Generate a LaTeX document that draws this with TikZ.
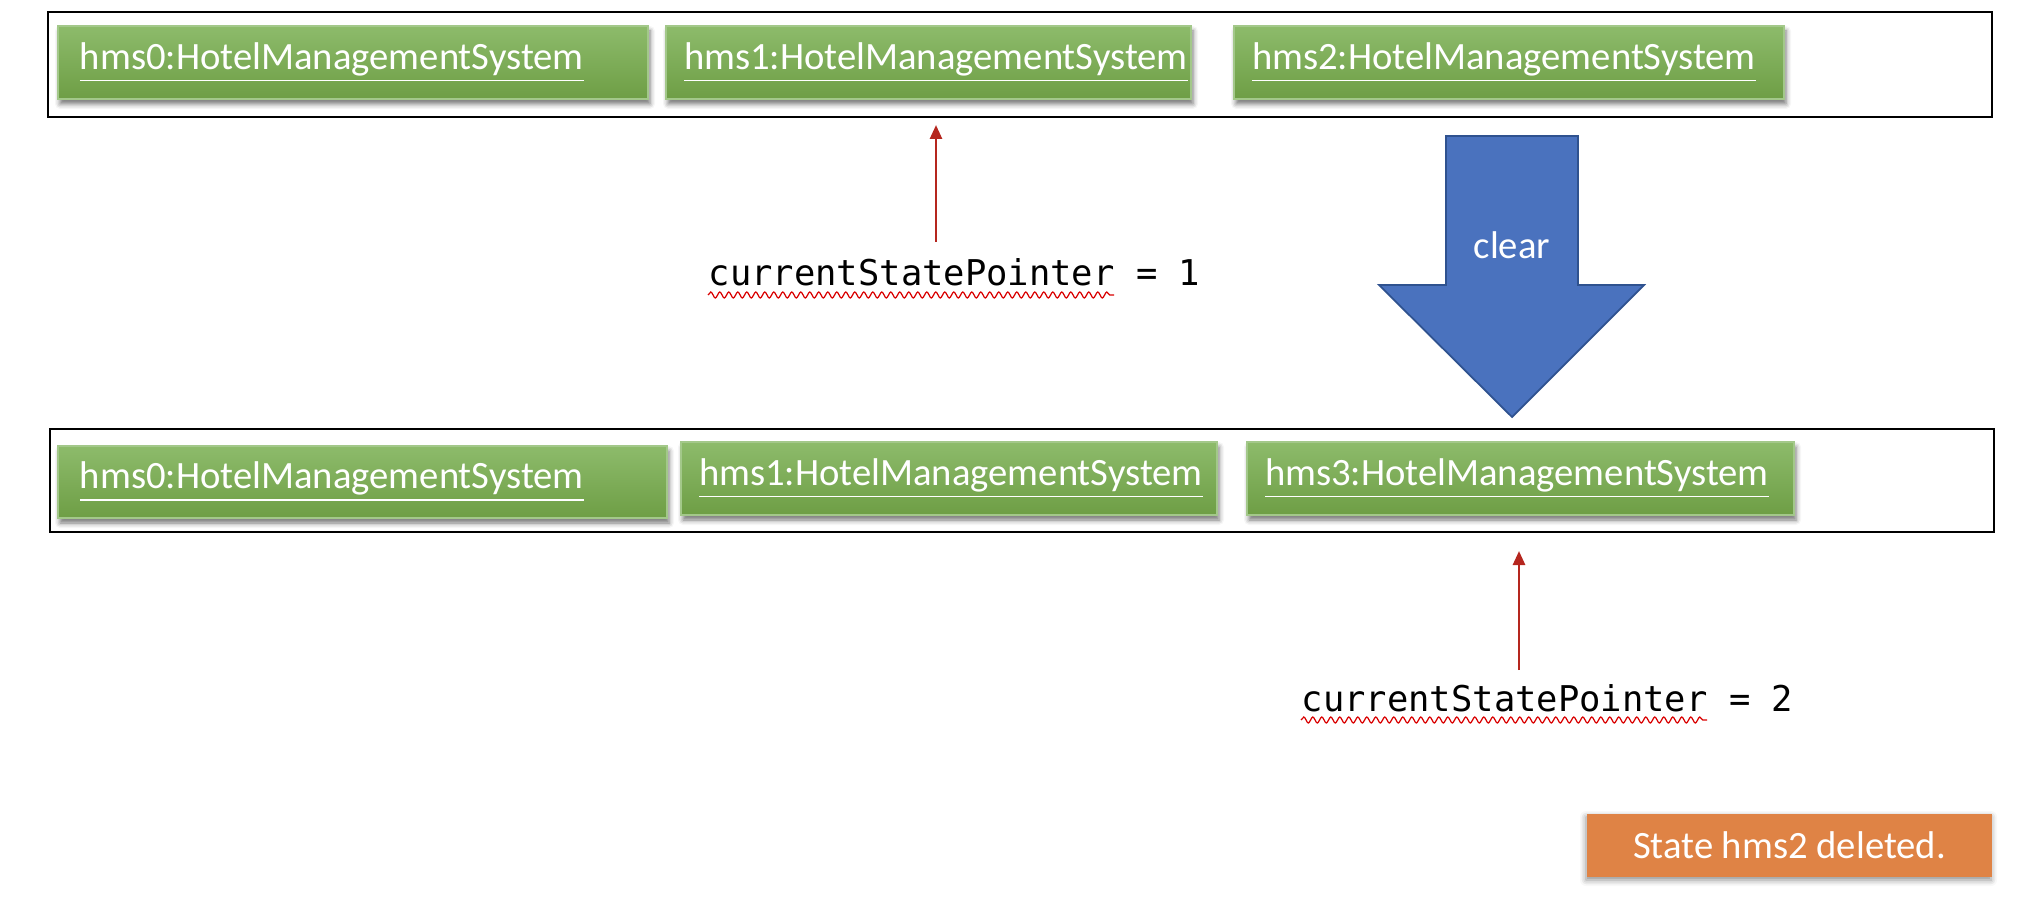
\documentclass[tikz,border=0pt]{standalone}
\usepackage{fontspec}
\setmainfont{Carlito}
\setmonofont{DejaVu Sans Mono}
\usetikzlibrary{arrows.meta,shadows.blur,decorations.pathmorphing}
\definecolor{hmstop}{HTML}{8DBB6B}
\definecolor{hmsbot}{HTML}{6E9E45}
\definecolor{hmsedge}{HTML}{A3C88A}
\definecolor{ptrred}{HTML}{B5261E}
\definecolor{clearblue}{HTML}{4A72BE}
\definecolor{clearedge}{HTML}{2F528F}
\definecolor{noteorange}{HTML}{DF8345}

\begin{document}
\begin{tikzpicture}[
  state/.style={draw=hmsedge, line width=0.3pt, top color=hmstop, bottom color=hmsbot,
    text=white, font=\fontsize{11}{13}\selectfont, inner xsep=0.18cm, align=left,
    minimum height=0.73cm,
    blur shadow={shadow xshift=0.2mm, shadow yshift=-0.5mm, shadow blur radius=0.5mm, shadow opacity=55}},
  frame/.style={draw, line width=0.8pt},
  ptr/.style={draw=ptrred, line width=0.75pt, -{Triangle[length=1.4mm,width=1.2mm]}},
  ptrlabel/.style={anchor=base west, inner sep=0pt, font=\ttfamily\fontsize{10.1}{12}\selectfont},
  squiggle/.style={draw=red!85!black, line width=0.35pt, decorate,
    decoration={snake, amplitude=0.3mm, segment length=0.9mm}},
  note/.style={fill=noteorange, text=white, font=\fontsize{11}{13}\selectfont,
    blur shadow={shadow xshift=-0.1mm, shadow yshift=-0.3mm, shadow blur radius=0.6mm, shadow opacity=45}}
]
\useasboundingbox (0,0) rectangle (20.2,-8.98);

% before clear
\draw[frame] (0.48,-0.12) rectangle (19.92,-1.17);
\node[state, inner xsep=0.22cm, text width=5.46cm] (a0) at (3.53,-0.625) {\underline{hms0:HotelManagementSystem}};
\node[state, text width=4.89cm] (a1) at (9.285,-0.625) {\underline{hms1:HotelManagementSystem}};
\node[state, text width=5.14cm] (a2) at (15.09,-0.625) {\underline{hms2:HotelManagementSystem}};

\coordinate (t1) at (9.36,-2.42);
\coordinate (h1) at (9.36,-1.25);
\draw[ptr] (t1) -- (h1);
\node[ptrlabel] (p1) at (7.08,-2.86) {currentStatePointer = 1};
\draw[squiggle] ([yshift=-0.9mm]p1.base west) -- ++(4.06,0);

% the command
\filldraw[fill=clearblue, draw=clearedge, line width=0.5pt] (14.46,-1.36) -- (15.78,-1.36) -- (15.78,-2.85)
  -- (16.44,-2.85) -- (15.12,-4.17) -- (13.79,-2.85) -- (14.46,-2.85) -- cycle;
\node[text=white, font=\fontsize{11}{13}\selectfont] (clr) at (15.12,-2.45) {clear};

% after clear
\draw[frame] (0.50,-4.29) rectangle (19.94,-5.32);
\node[state, inner xsep=0.22cm, text width=5.65cm, minimum height=0.72cm] (b0) at (3.625,-4.82) {\underline{hms0:HotelManagementSystem}};
\node[state, text width=5.00cm] (b1) at (9.49,-4.785) {\underline{hms1:HotelManagementSystem}};
\node[state, text width=5.11cm] (b3) at (15.205,-4.785) {\underline{hms3:HotelManagementSystem}};

\coordinate (t2) at (15.19,-6.70);
\coordinate (h2) at (15.19,-5.51);
\draw[ptr] (t2) -- (h2);
\node[ptrlabel] (p2) at (13.01,-7.11) {currentStatePointer = 2};
\draw[squiggle] ([yshift=-0.9mm]p2.base west) -- ++(4.06,0);

\node[note, minimum width=4.05cm, minimum height=0.63cm] (msg) at (17.895,-8.455) {State hms2 deleted.};
\end{tikzpicture}
\end{document}
